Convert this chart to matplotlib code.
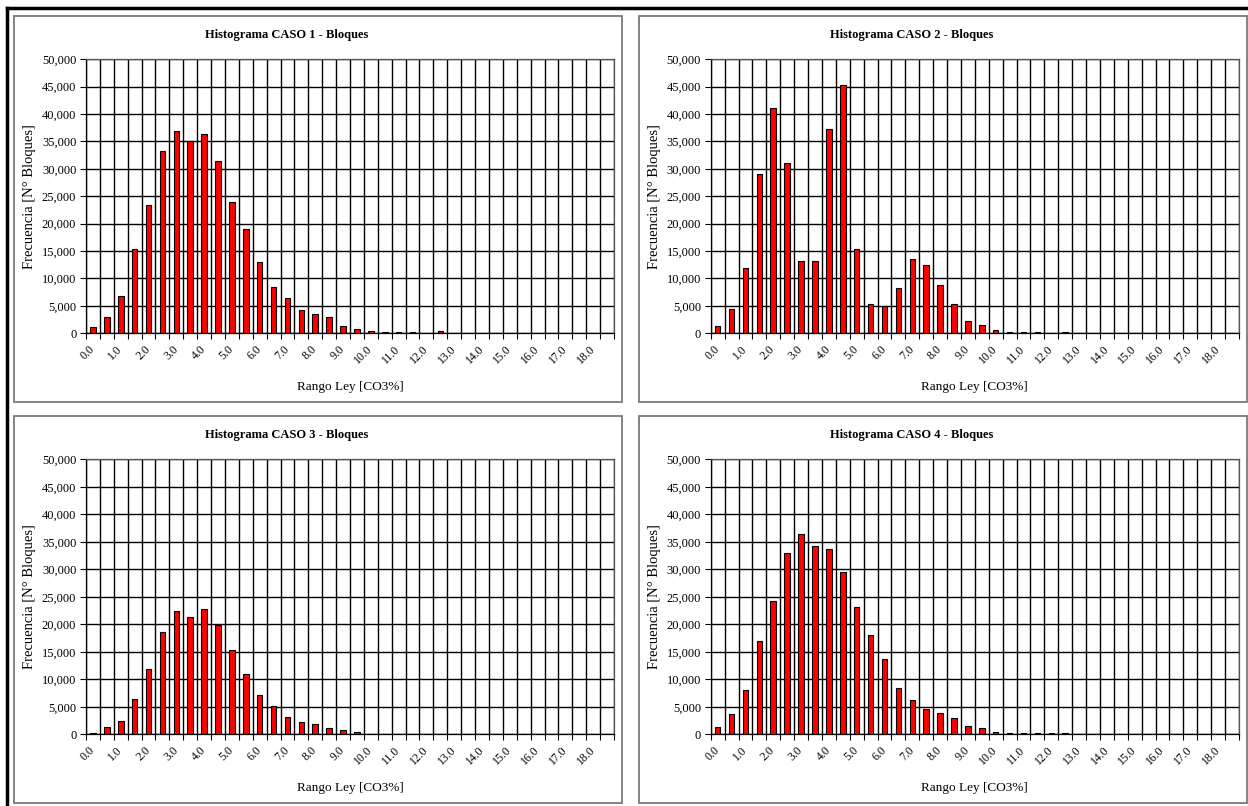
import matplotlib
matplotlib.use("Agg")
import matplotlib.pyplot as plt
from matplotlib.patches import Rectangle
from matplotlib.lines import Line2D
from matplotlib.ticker import FuncFormatter, FixedLocator

plt.rcParams['font.family'] = ['Liberation Serif', 'DejaVu Serif']

# rangos de ley (cada 0.5 %)
rangos = [i * 0.5 for i in range(38)]
etiquetas = ["%.1f" % r for r in rangos]

def rellenar(vals):
    return vals + [0] * (len(rangos) - len(vals))

caso1 = rellenar([1200, 3000, 6800, 15400, 23400, 33200, 36900, 35100, 36300, 31500,
                  23900, 19000, 13100, 8500, 6400, 4300, 3500, 2900, 1400, 800,
                  400, 200, 200, 200, 0, 400])
caso2 = rellenar([1400, 4500, 11900, 29100, 41200, 31000, 13200, 13200, 37300, 45300,
                  15400, 5300, 4900, 8300, 13500, 12500, 8900, 5300, 2300, 1600,
                  600, 200, 200, 200, 0, 200])
caso3 = rellenar([250, 1350, 2500, 6400, 11900, 18600, 22400, 21300, 22800, 19900,
                  15400, 11000, 7100, 5200, 3100, 2300, 1900, 1100, 700, 350])
caso4 = rellenar([1400, 3700, 8100, 16900, 24200, 32900, 36400, 34200, 33700, 29500,
                  23100, 18100, 13700, 8500, 6200, 4600, 3800, 2900, 1500, 1150,
                  500, 300, 150, 150, 150, 300])

casos = [caso1, caso2, caso3, caso4]
titulos = ["Histograma CASO 1 - Bloques", "Histograma CASO 2 - Bloques",
           "Histograma CASO 3 - Bloques", "Histograma CASO 4 - Bloques"]

W, H = 1248, 806
fig = plt.figure(figsize=(W / 100, H / 100), dpi=100)
fig.patch.set_facecolor("white")

# posiciones en pixeles: (borde panel izq, top, der, bottom), (plot izq, top, der, bottom)
paneles = [
    ((14, 15.7, 622, 401.7), (86, 59.3, 614, 333.3)),
    ((638.8, 15.7, 1247, 401.7), (710.7, 59.3, 1239, 333.3)),
    ((14, 415.7, 622, 803.3), (86, 459.3, 614, 734.3)),
    ((638.8, 415.7, 1247, 803.3), (710.7, 459.3, 1239, 734.3)),
]

x = list(range(len(rangos)))

for datos, titulo, (borde, plot) in zip(casos, titulos, paneles):
    bx0, by0, bx1, by1 = borde
    fig.add_artist(Rectangle((bx0 / W, 1 - by1 / H), (bx1 - bx0) / W, (by1 - by0) / H,
                             transform=fig.transFigure, fill=False,
                             edgecolor="#7a7a7a", linewidth=1.3))
    px0, py0, px1, py1 = plot
    ax = fig.add_axes([px0 / W, 1 - py1 / H, (px1 - px0) / W, (py1 - py0) / H])

    ax.bar(x, datos, width=0.4, color="#ff0000", edgecolor="black", linewidth=0.8, zorder=3)

    ax.set_xlim(-0.5, len(rangos) - 0.5)
    ax.set_ylim(0, 50000)

    ax.set_yticks(range(0, 50001, 5000))
    ax.yaxis.set_major_formatter(FuncFormatter(lambda v, p: "{:,}".format(int(v))))
    ax.tick_params(axis="y", labelsize=9, length=4, width=0.8, pad=3, direction="out")

    ax.xaxis.set_major_locator(FixedLocator(x[::2]))
    ax.set_xticklabels(etiquetas[::2], rotation=45, ha="right", va="center",
                       rotation_mode="anchor", fontsize=8.5)
    ax.tick_params(axis="x", which="major", length=0, pad=10)
    ax.xaxis.set_minor_locator(FixedLocator([i - 0.5 for i in range(len(rangos) + 1)]))
    ax.tick_params(axis="x", which="minor", length=4, width=0.8, direction="out")

    ax.grid(True, which="major", axis="y", color="black", linewidth=1.0, zorder=0)
    ax.grid(True, which="minor", axis="x", color="black", linewidth=1.0, zorder=0)
    ax.set_axisbelow(True)
    for s in ax.spines.values():
        s.set_color("#555555")
        s.set_linewidth(0.9)
    ax.spines["left"].set_color("black")
    ax.spines["bottom"].set_color("black")

    # titulo y etiquetas de ejes
    fig.text((bx0 + 273) / W, 1 - (by0 + 19.3) / H, titulo, ha="center", va="center",
             fontsize=9, fontweight="bold")
    fig.text((px0 + px1) / 2 / W, 1 - (py1 + 53.4) / H, "Rango Ley [CO3%]",
             ha="center", va="center", fontsize=9.5)
    fig.text((bx0 + 16) / W, 1 - (py0 + py1) / 2 / H, "Frecuencia [N° Bloques]",
             ha="center", va="center", rotation=90, fontsize=10.5)

# borde exterior negro
fig.add_artist(Line2D([7 / W, 7 / W], [0, 1 - 8 / H], transform=fig.transFigure,
                      color="black", linewidth=2.5))
fig.add_artist(Line2D([7 / W, 1], [1 - 8 / H, 1 - 8 / H], transform=fig.transFigure,
                      color="black", linewidth=2.5))

fig.savefig("out.png", dpi=100, facecolor="white")
